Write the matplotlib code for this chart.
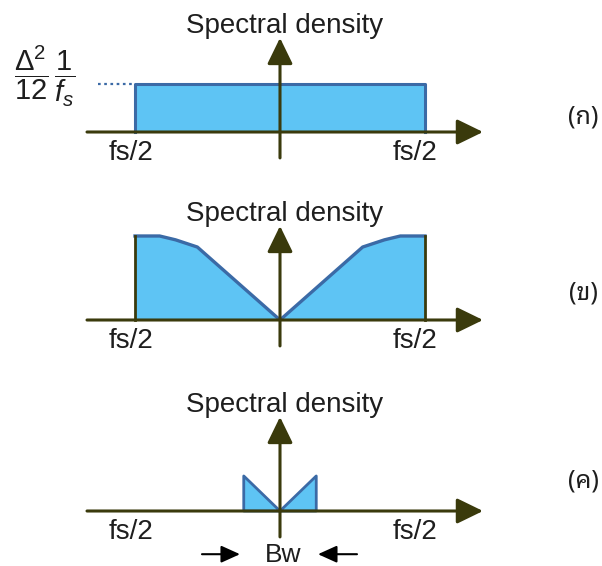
import matplotlib
matplotlib.use("Agg")
import matplotlib.pyplot as plt
from matplotlib import font_manager
from matplotlib.ft2font import FT2Font

# ---- data -------------------------------------------------------------
# frequency axis is normalised to fs/2 (so the band edges sit at -1 and +1)
flat_freq = [-1.0, 1.0]
flat_level = 1.0

shaped_freq = [-1.0, -0.83, -0.72, -0.57, 0.0, 0.57, 0.72, 0.83, 1.0]
shaped_level = [1.75, 1.75, 1.67, 1.52, 0.0, 1.52, 1.67, 1.75, 1.75]

band_freq = [-0.25, 0.0, 0.25]
band_level = [0.73, 0.0, 0.73]

axis_title = "Spectral density"
edge_label = "fs/2"
panel_tags = ["(ก)", "(ข)", "(ค)"]
bw_label = "Bw"
level_label = r"$\dfrac{\Delta^2}{12}\,\dfrac{1}{f_s}$"

# ---- style ------------------------------------------------------------
FILL = "#5ec4f4"
EDGE = "#3b6aa6"
AXIS = "#3a3a0c"
TEXT = "#1e1e1e"


def find_thai_family():
    preferred = ["Noto Sans Thai Looped", "Noto Sans Thai", "Loma", "Garuda",
                 "Waree", "Umpush", "Sawasdee", "Tlwg Typo", "Kinnari", "Norasi"]
    found = {}
    for entry in font_manager.fontManager.ttflist:
        if entry.name in found:
            continue
        try:
            if 0x0E01 in FT2Font(entry.fname).get_charmap():
                found[entry.name] = True
        except Exception:
            pass
    for name in preferred:
        if name in found:
            return name
    return next(iter(found), None)


thai = find_thai_family()
base_fonts = ["Liberation Sans", "DejaVu Sans"]
tag_fonts = ([thai] if thai else []) + base_fonts

plt.rcParams["font.family"] = base_fonts
plt.rcParams["mathtext.fontset"] = "custom"
plt.rcParams["mathtext.rm"] = "Liberation Sans"
plt.rcParams["mathtext.it"] = "Liberation Sans:italic"

W, H = 602, 566
fig = plt.figure(figsize=(W / 100, H / 100), dpi=100)
fig.patch.set_facecolor("white")

PX_PER_F = 145.0     # pixels per fs/2
PX_PER_LEVEL = 48.0  # pixels per unit of spectral density
X_ORIGIN = 280.0

ARROW = "-|>,head_length=1.6,head_width=0.78"


def panel(top, bottom, baseline):
    ax = fig.add_axes([0, 1 - bottom / H, 1, (bottom - top) / H])
    ax.set_xlim(-X_ORIGIN / PX_PER_F, (W - X_ORIGIN) / PX_PER_F)
    ax.set_ylim(-(bottom - baseline) / PX_PER_LEVEL, (baseline - top) / PX_PER_LEVEL)
    ax.axis("off")
    return ax


def draw_axes(ax, tag, tag_y):
    # horizontal frequency axis with arrow head
    ax.annotate("", xy=(1.40, 0), xytext=(-1.331, 0),
                arrowprops=dict(arrowstyle=ARROW, mutation_scale=10, color=AXIS,
                                lw=2.2, shrinkA=0, shrinkB=0), zorder=5)
    # vertical density axis with arrow head
    ax.annotate("", xy=(0, 1.96), xytext=(0, -0.54),
                arrowprops=dict(arrowstyle=ARROW, mutation_scale=10, color=AXIS,
                                lw=2.2, shrinkA=0, shrinkB=0), zorder=5)
    ax.text(0.03, 2.06, axis_title, ha="center", va="baseline",
            fontsize=20, color=TEXT)
    ax.text(flat_freq[0] - 0.03, -0.58, edge_label, ha="center", va="baseline",
            fontsize=20, color=TEXT)
    ax.text(flat_freq[1] - 0.07, -0.58, edge_label, ha="center", va="baseline",
            fontsize=20, color=TEXT)
    ax.text(2.09, tag_y, tag, ha="center", va="center", fontsize=18,
            color=TEXT, family=tag_fonts)


# (ก) flat quantisation noise
ax1 = panel(0, 175, 132)
ax1.fill_between(flat_freq, [flat_level, flat_level], 0, color=FILL, lw=0, zorder=2)
ax1.plot([flat_freq[0], flat_freq[0], flat_freq[1], flat_freq[1]],
         [0, flat_level, flat_level, 0], color=EDGE, lw=2.2, zorder=3)
ax1.plot([-1.255, flat_freq[0]], [flat_level, flat_level], color=EDGE, lw=1.6,
         ls=(0, (1.2, 1.6)), zorder=3)
ax1.text(-1.625, 1.16, level_label, ha="center", va="center", fontsize=21, color=TEXT)
draw_axes(ax1, panel_tags[0], 0.31)

# (ข) noise-shaped spectrum
ax2 = panel(175, 365, 320)
ax2.fill_between(shaped_freq, shaped_level, 0, color=FILL, lw=0, zorder=2)
ax2.plot(shaped_freq, shaped_level, color=EDGE, lw=2.4, zorder=3,
         solid_joinstyle="round")
for f, lv in ((shaped_freq[0], shaped_level[0]), (shaped_freq[-1], shaped_level[-1])):
    ax2.plot([f, f], [0, lv], color=AXIS, lw=2.0, zorder=3)
draw_axes(ax2, panel_tags[1], 0.56)

# (ค) in-band portion of the shaped noise
ax3 = panel(365, 566, 511)
for side in (-1, 1):
    xs = [band_freq[1], band_freq[1 + side], band_freq[1 + side]]
    ys = [band_level[1], band_level[1 + side], 0]
    ax3.fill(xs, ys, color=FILL, lw=0, zorder=2)
    ax3.plot(xs + [band_freq[1]], ys + [0], color=EDGE, lw=2.0, zorder=3)
draw_axes(ax3, panel_tags[2], 0.62)

# bandwidth marker
ax3.text(0.02, -1.06, bw_label, ha="center", va="baseline", fontsize=19, color=TEXT)
for tail, tip in ((-0.538, -0.276), (0.531, 0.262)):
    ax3.annotate("", xy=(tip, -0.90), xytext=(tail, -0.90),
                 arrowprops=dict(arrowstyle="-|>,head_length=1.15,head_width=0.52",
                                 mutation_scale=10, color="black", lw=1.5,
                                 shrinkA=0, shrinkB=0))

fig.savefig("out.png", dpi=100, facecolor="white")
